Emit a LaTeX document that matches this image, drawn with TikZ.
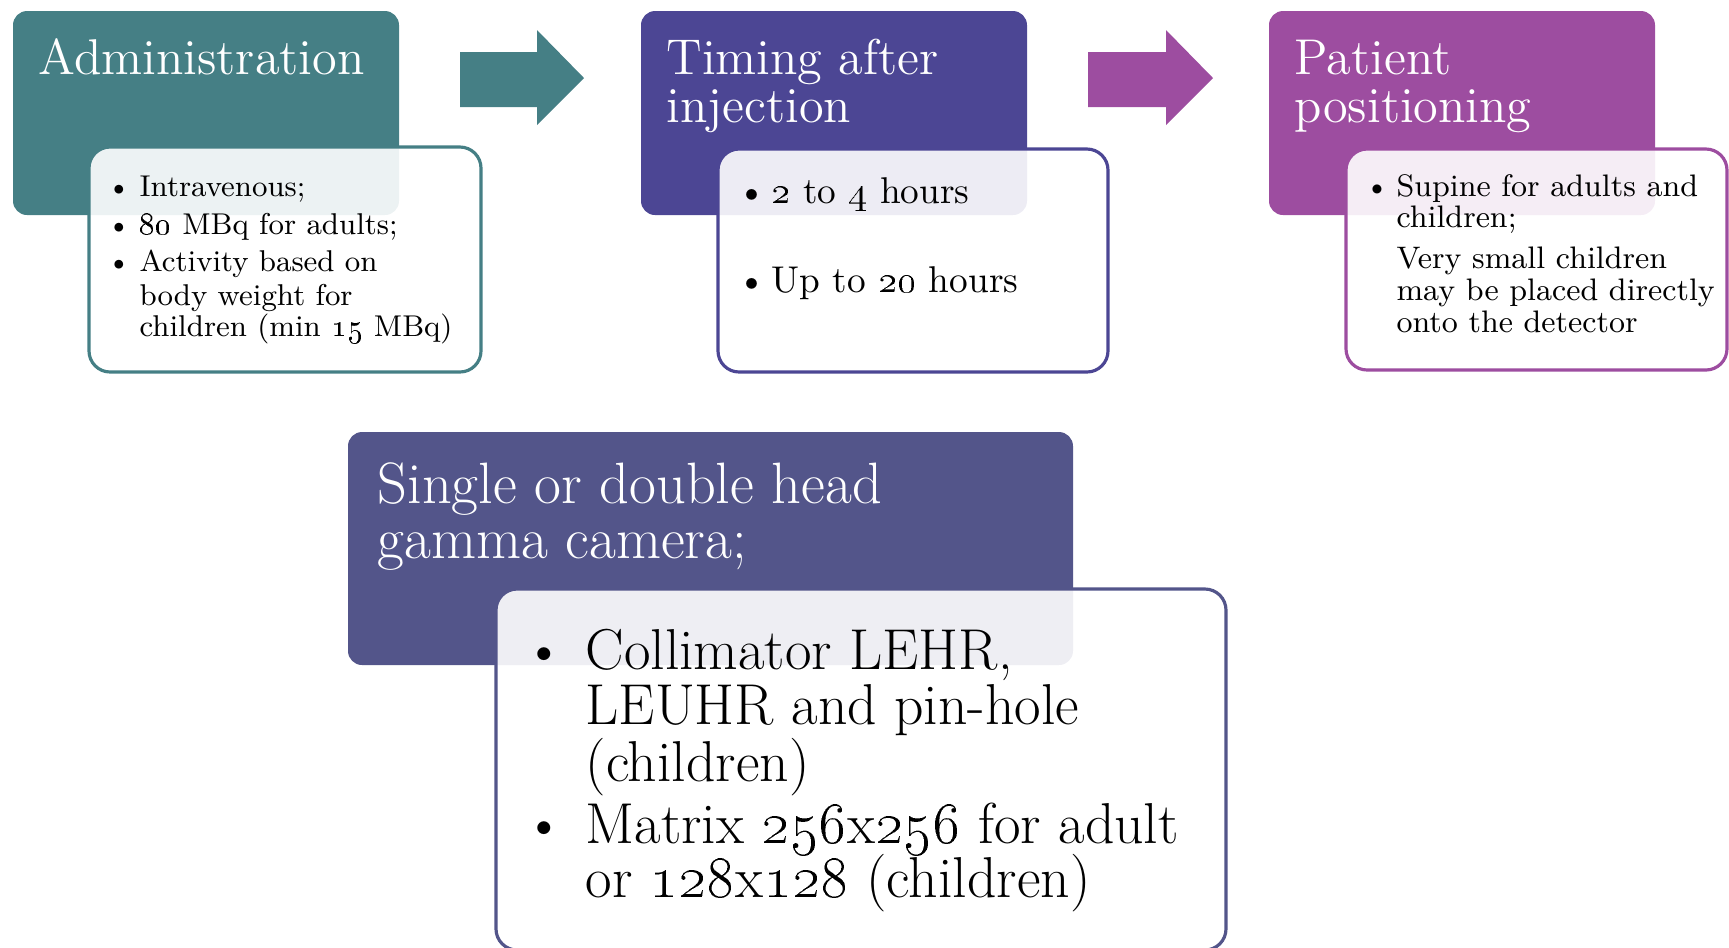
\documentclass[tikz,border=0pt]{standalone}
\usepackage{tikz}

\definecolor{admTeal}{HTML}{457F85}
\definecolor{timIndigo}{HTML}{4C4694}
\definecolor{posPurple}{HTML}{9D4DA0}
\definecolor{camSlate}{HTML}{53558A}
\newcommand{\osn}[1]{\oldstylenums{#1}}
\newcommand{\ttlfont}{\fontsize{14.3}{15}\selectfont}
\newcommand{\camfont}{\fontsize{16.6}{17}\selectfont}
\newcommand{\camtxtfont}{\fontsize{16.4}{17}\selectfont}

\tikzset{
  head/.style={fill=#1, rounded corners=4pt},
  body/.style={draw=#1, fill=white, fill opacity=0.9, rounded corners=6pt},
  ttl/.style={anchor=base west, inner sep=0pt, text=white},
  txt/.style={anchor=base west, inner sep=0pt},
  dot/.style={anchor=base, inner sep=0pt},
}

\begin{document}
\begin{tikzpicture}[x=0.01cm, y=-0.01cm, line width=0.9pt]
                \useasboundingbox (0,0) rectangle (1729,947);
                % block arrows
                \fill[admTeal] (460,52) -- (537,52) -- (537,30) -- (584,78) -- (537,125) -- (537,107) -- (460,107) -- cycle;
                \fill[posPurple] (1088,52) -- (1166,52) -- (1166,30) -- (1213,78) -- (1166,125) -- (1166,107) -- (1088,107) -- cycle;
                % boxes
                \fill[head=admTeal] (13,11) rectangle (399,215);
                \filldraw[body=admTeal] (89,147) rectangle (481,372);
                \fill[head=timIndigo] (641,11) rectangle (1027,215);
                \filldraw[body=timIndigo] (718,149) rectangle (1108,372);
                \fill[head=posPurple] (1269,11) rectangle (1655,215);
                \filldraw[body=posPurple] (1346,149) rectangle (1727,370);
                \fill[head=camSlate] (348,432) rectangle (1073,665);
                \filldraw[body=camSlate] (496,589) rectangle (1226,950);
                % administration
                \node[ttl, font=\ttlfont] (adm) at (37,74) {Administration};
                \foreach \y/\t [count=\i] in {196/{Intravenous;}, 234/{\osn{80} MBq for adults;}, 271/{Activity based on}, 305/{body weight for}, 336/{children (min \osn{15} MBq)}}
                        \node[txt, font=\fontsize{8.55}{9}\selectfont] (adm-\i) at (138,\y) {\t};
                \foreach \y [count=\i] in {196, 234, 271}
                        \node[dot, font=\fontsize{8.55}{9}\selectfont] (adm-b\i) at (119,\y) {\textbullet};
                % timing
                \foreach \y/\t [count=\i] in {74/{Timing after}, 122/{injection}}
                        \node[ttl, font=\ttlfont] (tim-\i) at (665,\y) {\t};
                \foreach \y/\t [count=\i] in {203/{\osn{2} to \osn{4} hours}, 292/{Up to \osn{20} hours}} {
                        \node[txt, font=\fontsize{10.6}{11}\selectfont] (tim-t\i) at (770,\y) {\t};
                        \node[dot, font=\fontsize{10.6}{11}\selectfont] (tim-b\i) at (752,\y) {\textbullet};
                }
                % positioning
                \foreach \y/\t [count=\i] in {74/{Patient}, 122/{positioning}}
                        \node[ttl, font=\ttlfont] (pos-\i) at (1293,\y) {\t};
                \foreach \y/\t [count=\i] in {196/{Supine for adults and}, 227/{children;}, 268/{Very small children}, 300/{may be placed directly}, 332/{onto the detector}}
                        \node[txt, font=\fontsize{8.85}{9.5}\selectfont] (pos-t\i) at (1395,\y) {\t};
                \node[dot, font=\fontsize{8.85}{9.5}\selectfont] (pos-b1) at (1377,196) {\textbullet};
                % camera
                \foreach \y/\t [count=\i] in {503/{Single or double head}, 558/{gamma camera;}}
                        \node[ttl, font=\camfont] (cam-\i) at (376,\y) {\t};
                \foreach \y/\t [count=\i] in {669/{Collimator LEHR,}, 724/{LEUHR and pin-hole}, 781/{(children)}, 843/{Matrix \osn{256}x\osn{256} for adult}, 897/{or \osn{128}x\osn{128} (children)}}
                        \node[txt, font=\camtxtfont] (cam-t\i) at (584,\y) {\t};
                \foreach \y [count=\i] in {669, 843}
                        \node[dot, font=\camtxtfont] (cam-b\i) at (544,\y) {\textbullet};
        \end{tikzpicture}
\end{document}
